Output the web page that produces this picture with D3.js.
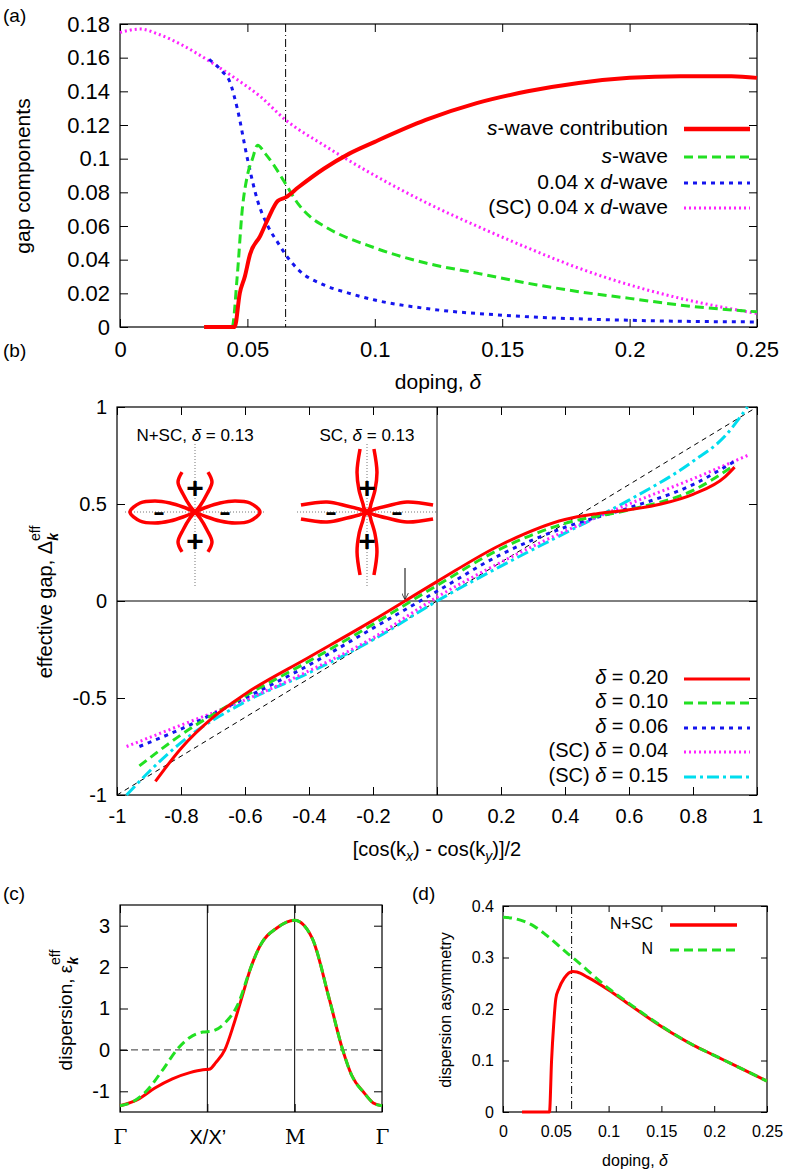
<!DOCTYPE html>
<html>
<head>
<meta charset="utf-8">
<script src="https://cdn.jsdelivr.net/npm/d3@7"></script>
<style>
  body { margin: 0; background: #fff; }
  svg { font-family: "Liberation Sans", Arial, sans-serif; }
  .tick text { fill: #000; }
</style>
</head>
<body>
<div id="wrapper"></div>
<script>
// ---------- data ----------
// (a) gap components vs doping
const aSwaveContrib = [[0.033,0],[0.045,0],[0.047,0.02],[0.049,0.03],[0.051,0.043],[0.055,0.054],[0.058,0.064],[0.062,0.075],[0.065,0.077],[0.07,0.083],[0.08,0.094],[0.09,0.103],[0.1,0.11],[0.12,0.123],[0.14,0.133],[0.16,0.14],[0.18,0.145],[0.2,0.148],[0.22,0.149],[0.24,0.149],[0.25,0.148]];
const aSwave = [[0.033,0],[0.044,0],[0.046,0.03],[0.048,0.07],[0.05,0.09],[0.052,0.1],[0.054,0.108],[0.057,0.103],[0.06,0.097],[0.065,0.085],[0.07,0.073],[0.075,0.065],[0.08,0.06],[0.1,0.047],[0.12,0.038],[0.14,0.032],[0.16,0.026],[0.18,0.021],[0.2,0.017],[0.22,0.013],[0.25,0.009]];
const aDwaveN = [[0.035,0.159],[0.04,0.152],[0.043,0.146],[0.046,0.13],[0.05,0.1],[0.054,0.075],[0.058,0.06],[0.062,0.05],[0.065,0.043],[0.07,0.034],[0.08,0.025],[0.09,0.02],[0.1,0.016],[0.12,0.011],[0.15,0.007],[0.2,0.004],[0.25,0.003]];
const aDwaveSC = [[0,0.175],[0.008,0.177],[0.015,0.174],[0.025,0.167],[0.035,0.158],[0.045,0.148],[0.055,0.137],[0.065,0.123],[0.08,0.108],[0.1,0.09],[0.12,0.074],[0.14,0.06],[0.16,0.047],[0.18,0.035],[0.2,0.025],[0.22,0.017],[0.25,0.008]];
const aXTicks = [0,0.05,0.1,0.15,0.2,0.25];
const aYTicks = [0,0.02,0.04,0.06,0.08,0.1,0.12,0.14,0.16,0.18];
const aLegend = ["s-wave contribution","s-wave","0.04 x d-wave","(SC) 0.04 x d-wave"];
const deltaC = 0.065;

// (b) effective gap
const b020 = [[-0.88,-0.93],[-0.8,-0.76],[-0.7,-0.6],[-0.6,-0.48],[-0.4,-0.29],[-0.2,-0.1],[0,0.1],[0.2,0.29],[0.4,0.42],[0.5,0.45],[0.6,0.47],[0.7,0.5],[0.8,0.55],[0.9,0.64],[0.93,0.69]];
const b010 = [[-0.93,-0.85],[-0.8,-0.69],[-0.6,-0.49],[-0.4,-0.31],[-0.2,-0.12],[0,0.08],[0.2,0.27],[0.4,0.4],[0.6,0.47],[0.8,0.57],[0.93,0.7]];
const b006 = [[-0.93,-0.75],[-0.8,-0.66],[-0.6,-0.5],[-0.4,-0.33],[-0.2,-0.14],[0,0.05],[0.2,0.24],[0.4,0.38],[0.6,0.48],[0.8,0.6],[0.93,0.72]];
const bSC004 = [[-0.97,-0.75],[-0.8,-0.64],[-0.6,-0.51],[-0.4,-0.36],[-0.2,-0.19],[0,0.02],[0.2,0.2],[0.4,0.36],[0.6,0.5],[0.8,0.63],[0.97,0.75]];
const bSC015 = [[-0.97,-1.0],[-0.9,-0.88],[-0.8,-0.73],[-0.6,-0.52],[-0.4,-0.37],[-0.2,-0.2],[0,0.0],[0.2,0.18],[0.4,0.35],[0.6,0.52],[0.8,0.72],[0.9,0.85],[0.97,1.0]];
const bDiag = [[-1,-1],[1,1]];
const bXTicks = [-1,-0.8,-0.6,-0.4,-0.2,0,0.2,0.4,0.6,0.8,1];
const bYTicks = [-1,-0.5,0,0.5,1];
const bLegend = ["δ = 0.20","δ = 0.10","δ = 0.06","(SC) δ = 0.04","(SC) δ = 0.15"];
const bArrowX = -0.1;

// insets: lobe branches, angle from lobe axis (deg) and radius (px-units)
const insetNSC_h = { ang: [0,9.3,15.4,19.8,22.6,45], r: [65,55.7,41.5,26.6,13,0], closed: true };
const insetNSC_v = { ang: [18,29.5,33.7,39.8,45], r: [42,34.5,21.6,7.8,0], closed: false };
const insetSC_h = { ang: [6,14,16.7,20.6,45], r: [66.4,41.2,20.9,8.5,0], closed: false };
const insetSC_v = { ang: [6.3,14,20,26.6,36.9,45], r: [63.4,41.2,23.4,8.9,5,0], closed: false };

// (c) dispersion along Γ-X-M-Γ
const cNSC = [[0,-1.35],[0.2,-1.2],[0.4,-0.92],[0.6,-0.7],[0.8,-0.55],[0.95,-0.48],[1.02,-0.47],[1.1,-0.3],[1.2,0.0],[1.3,0.6],[1.4,1.3],[1.5,2.0],[1.6,2.5],[1.8,2.95],[2.0,3.13],[2.2,2.7],[2.4,1.2],[2.55,0.0],[2.65,-0.6],[2.8,-1.05],[2.9,-1.28],[3.0,-1.35]];
const cN = [[0,-1.35],[0.15,-1.25],[0.3,-1.0],[0.5,-0.45],[0.65,0.0],[0.8,0.3],[0.95,0.43],[1.05,0.45],[1.2,0.65],[1.35,1.1],[1.5,2.0],[1.6,2.5],[1.8,2.95],[2.0,3.13],[2.2,2.7],[2.4,1.2],[2.55,0.0],[2.65,-0.6],[2.8,-1.05],[2.9,-1.28],[3.0,-1.35]];
const cXTicks = [0,1,2,3];
const cXLabels = ["Γ","X/X’","M","Γ"];
const cYTicks = [-1,0,1,2,3];

// (d) dispersion asymmetry
const dNSC = [[0.018,0],[0.044,0],[0.046,0.1],[0.048,0.17],[0.05,0.22],[0.053,0.24],[0.058,0.26],[0.066,0.273],[0.07,0.272],[0.08,0.262],[0.1,0.237],[0.12,0.208],[0.15,0.166],[0.18,0.13],[0.2,0.11],[0.22,0.09],[0.25,0.06]];
const dN = [[0,0.378],[0.01,0.376],[0.02,0.37],[0.03,0.36],[0.04,0.345],[0.05,0.328],[0.06,0.31],[0.07,0.293],[0.08,0.275],[0.1,0.24],[0.12,0.21],[0.15,0.167],[0.18,0.13],[0.2,0.11],[0.22,0.09],[0.25,0.06]];
const dXTicks = [0,0.05,0.1,0.15,0.2,0.25];
const dYTicks = [0,0.1,0.2,0.3,0.4];
const dLegend = ["N+SC","N"];

// ---------- styles ----------
const RED = "#ff0000", GREEN = "#22e022", BLUE = "#1515ee", PINK = "#ff22ff", CYAN = "#00ddee";
const fmt = (v) => String(+v.toFixed(2));

const svg = d3.select("#wrapper").append("svg").attr("width", 789).attr("height", 1175);

function panel(box, xDom, yDom, xTicks, yTicks, opt) {
  const x = d3.scaleLinear().domain(xDom).range([box.left, box.right]);
  const y = d3.scaleLinear().domain(yDom).range([box.bottom, box.top]);
  const g = svg.append("g");
  const ts = opt.tick || 8;
  const bot = g.append("g").attr("transform", `translate(0,${box.bottom})`)
    .call(d3.axisBottom(x).tickValues(xTicks).tickSize(-ts).tickPadding(opt.xpad || 14)
      .tickFormat(opt.xfmt || fmt));
  const top = g.append("g").attr("transform", `translate(0,${box.top})`)
    .call(d3.axisTop(x).tickValues(xTicks).tickSize(-ts).tickFormat(""));
  const lef = g.append("g").attr("transform", `translate(${box.left},0)`)
    .call(d3.axisLeft(y).tickValues(yTicks).tickSize(-ts).tickPadding(opt.ypad || 10).tickFormat(fmt));
  const rig = g.append("g").attr("transform", `translate(${box.right},0)`)
    .call(d3.axisRight(y).tickValues(yTicks).tickSize(-ts).tickFormat(""));
  [bot, top, lef, rig].forEach((a) => {
    a.select(".domain").remove();
    a.selectAll("line").attr("stroke", "#000");
    a.selectAll("text").attr("font-size", opt.fs).attr("font-family", "Liberation Sans, Arial, sans-serif");
  });
  g.append("rect").attr("x", box.left).attr("y", box.top)
    .attr("width", box.right - box.left).attr("height", box.bottom - box.top)
    .attr("fill", "none").attr("stroke", "#000").attr("stroke-width", 1.2);
  const line = d3.line().x((d) => x(d[0])).y((d) => y(d[1])).curve(d3.curveMonotoneX);
  return { x, y, g, line };
}

function draw(p, data, color, width, dash) {
  p.g.append("path").datum(data).attr("d", p.line)
    .attr("fill", "none").attr("stroke", color).attr("stroke-width", width)
    .attr("stroke-dasharray", dash || null);
}

function legendRow(g, tx, ty, x1, x2, color, width, dash, textNode, fs) {
  const t = g.append("text").attr("x", tx).attr("y", ty).attr("text-anchor", "end")
    .attr("font-size", fs).attr("dominant-baseline", "middle");
  textNode(t);
  g.append("line").attr("x1", x1).attr("x2", x2).attr("y1", ty).attr("y2", ty)
    .attr("stroke", color).attr("stroke-width", width).attr("stroke-dasharray", dash || null);
}

function label(x, y, txt, fs) {
  svg.append("text").attr("x", x).attr("y", y).attr("font-size", fs).text(txt);
}

// ---------- (a) ----------
const pa = panel({ left: 120, right: 757, top: 24, bottom: 327 }, [0, 0.25], [0, 0.18], aXTicks, aYTicks, { fs: 22 });
pa.g.append("line").attr("x1", pa.x(deltaC)).attr("x2", pa.x(deltaC)).attr("y1", pa.y(0.18)).attr("y2", pa.y(0))
  .attr("stroke", "#000").attr("stroke-dasharray", "8,3,1,3");
draw(pa, aDwaveSC, PINK, 3, "2,3");
draw(pa, aDwaveN, BLUE, 3, "4,5");
draw(pa, aSwave, GREEN, 3, "9,5");
draw(pa, aSwaveContrib, RED, 4);
const aStyle = [[RED, 4.5, null], [GREEN, 3, "9,5"], [BLUE, 3, "4,5"], [PINK, 3, "2,3"]];
const aY = [129, 157, 183, 208];
const italicWave = (pre, letter, post) => (t) => {
  if (pre) t.append("tspan").text(pre);
  t.append("tspan").attr("font-style", "italic").text(letter);
  t.append("tspan").text(post);
};
const aText = [italicWave("", "s", "-wave contribution"), italicWave("", "s", "-wave"),
  italicWave("0.04 x ", "d", "-wave"), italicWave("(SC) 0.04 x ", "d", "-wave")];
aLegend.forEach((n, i) => legendRow(svg, 668, aY[i], 684, 750, aStyle[i][0], aStyle[i][1], aStyle[i][2], aText[i], 21));
label(3, 22, "(a)", 19);
svg.append("text").attr("x", 438).attr("y", 389).attr("text-anchor", "middle").attr("font-size", 21)
  .call((t) => { t.append("tspan").text("doping, "); t.append("tspan").attr("font-style", "italic").text("δ"); });
svg.append("text").attr("transform", "translate(30,176) rotate(-90)").attr("text-anchor", "middle")
  .attr("font-size", 21).text("gap components");

// ---------- (b) ----------
const pb = panel({ left: 117, right: 757, top: 407, bottom: 795 }, [-1, 1], [-1, 1], bXTicks, bYTicks, { fs: 20 });
pb.g.append("line").attr("x1", pb.x(0)).attr("x2", pb.x(0)).attr("y1", pb.y(1)).attr("y2", pb.y(-1)).attr("stroke", "#000");
pb.g.append("line").attr("x1", pb.x(-1)).attr("x2", pb.x(1)).attr("y1", pb.y(0)).attr("y2", pb.y(0)).attr("stroke", "#000");
pb.g.append("path").datum(bDiag).attr("d", d3.line().x((d) => pb.x(d[0])).y((d) => pb.y(d[1])))
  .attr("stroke", "#000").attr("stroke-dasharray", "5,4").attr("fill", "none");
svg.append("defs").append("marker").attr("id", "arr").attr("viewBox", "0 0 10 10").attr("refX", 9).attr("refY", 5)
  .attr("markerWidth", 7).attr("markerHeight", 7).attr("orient", "auto")
  .append("path").attr("d", "M0,0 L10,5 L0,10").attr("fill", "none").attr("stroke", "#000");
pb.g.append("line").attr("x1", pb.x(bArrowX)).attr("x2", pb.x(bArrowX)).attr("y1", pb.y(0.17)).attr("y2", pb.y(0.01))
  .attr("stroke", "#000").attr("marker-end", "url(#arr)");
const bSeries = [bSC015, bSC004, b006, b010, b020];
const bStyle = [[CYAN, 3, "12,4,3,4"], [PINK, 3, "2,3"], [BLUE, 3, "4,5"], [GREEN, 3, "9,5"], [RED, 3, null]];
bSeries.forEach((s, i) => draw(pb, s, bStyle[i][0], bStyle[i][1], bStyle[i][2]));
const bY = [679, 703, 728, 752, 777];
bLegend.forEach((n, i) => {
  const st = bStyle[4 - i];
  legendRow(svg, 668, bY[i], 684, 750, st[0], st[1], st[2], (t) => {
    const k = n.indexOf("δ");
    if (k > 0) t.append("tspan").text(n.slice(0, k));
    t.append("tspan").attr("font-style", "italic").text("δ");
    t.append("tspan").text(n.slice(k + 1));
  }, 20);
});
label(3, 357, "(b)", 19);
svg.append("text").attr("x", 437).attr("y", 856).attr("text-anchor", "middle").attr("font-size", 20)
  .call((t) => {
    t.append("tspan").text("[cos(k");
    t.append("tspan").attr("font-style", "italic").attr("font-size", 14).attr("dy", 5).text("x");
    t.append("tspan").attr("dy", -5).text(") - cos(k");
    t.append("tspan").attr("font-style", "italic").attr("font-size", 14).attr("dy", 5).text("y");
    t.append("tspan").attr("dy", -5).text(")]/2");
  });
svg.append("text").attr("transform", "translate(52,602) rotate(-90)").attr("text-anchor", "middle").attr("font-size", 20)
  .call((t) => {
    t.append("tspan").text("effective gap, Δ");
    t.append("tspan").attr("font-style", "italic").attr("font-weight", "bold").attr("font-size", 14).attr("dy", 6).text("k");
    t.append("tspan").attr("font-size", 14).attr("dx", -8).attr("dy", -18).text("eff");
  });

// insets
function inset(cx, cy, hLobe, vLobe, title) {
  const ig = svg.append("g").attr("transform", `translate(${cx},${cy})`);
  ig.append("line").attr("x1", -70).attr("x2", 70).attr("y1", 0).attr("y2", 0).attr("stroke", "#777").attr("stroke-dasharray", "1,2");
  ig.append("line").attr("x1", 0).attr("x2", 0).attr("y1", -68).attr("y2", 75).attr("stroke", "#777").attr("stroke-dasharray", "1,2");
  const radial = d3.line().x((d) => d3.pointRadial(d[0], d[1])[0]).y((d) => d3.pointRadial(d[0], d[1])[1])
    .curve(d3.curveCatmullRom.alpha(0.5));
  const rad = (deg) => deg * Math.PI / 180;
  // axis angles in d3.pointRadial convention (0 = up)
  [[90, hLobe], [270, hLobe], [0, vLobe], [180, vLobe]].forEach(([axis, lobe]) => {
    const side = (sgn) => lobe.ang.map((a, i) => [rad(axis + sgn * a), lobe.r[i]]);
    if (lobe.closed) {
      const pts = side(-1).reverse().concat(side(1).slice(1));
      ig.append("path").attr("d", radial(pts)).attr("fill", "none").attr("stroke", RED).attr("stroke-width", 3.5);
    } else {
      [1, -1].forEach((s) => ig.append("path").attr("d", radial(side(s))).attr("fill", "none")
        .attr("stroke", RED).attr("stroke-width", 3.5));
    }
  });
  [["+", 0, -25], ["+", 0, 28], ["-", -36, 0], ["-", 30, 0]].forEach(([s, dx, dy]) =>
    ig.append("text").attr("x", dx).attr("y", dy).attr("text-anchor", "middle").attr("dominant-baseline", "central")
      .attr("font-weight", "bold").attr("font-size", s === "-" ? 9 : 30).text(s === "-" ? "▬" : "+"));
  svg.append("text").attr("x", cx).attr("y", cy - 71).attr("text-anchor", "middle").attr("font-size", 17)
    .call((t) => { t.append("tspan").text(title + ", "); t.append("tspan").attr("font-style", "italic").text("δ");
      t.append("tspan").text(" = 0.13"); });
}
inset(195, 512, insetNSC_h, insetNSC_v, "N+SC");
inset(367, 512, insetSC_h, insetSC_v, "SC");

// ---------- (c) ----------
const pc = panel({ left: 120, right: 382, top: 905, bottom: 1112 }, [0, 3], [-1.5, 3.5], cXTicks, cYTicks,
  { fs: 20, xfmt: (d, i) => cXLabels[i], xpad: 18 });
[1, 2].forEach((v) => pc.g.append("line").attr("x1", pc.x(v)).attr("x2", pc.x(v)).attr("y1", pc.y(3.5)).attr("y2", pc.y(-1.5)).attr("stroke", "#000"));
pc.g.append("line").attr("x1", pc.x(0)).attr("x2", pc.x(3)).attr("y1", pc.y(0)).attr("y2", pc.y(0))
  .attr("stroke", "#000").attr("stroke-dasharray", "7,4").attr("stroke-width", 0.8);
draw(pc, cNSC, RED, 3);
draw(pc, cN, GREEN, 3, "9,5");
pc.g.selectAll("text").filter(function () { return d3.select(this).text() === "Γ" || d3.select(this).text() === "M"; })
  .attr("font-family", "DejaVu Serif, serif");
label(3, 900, "(c)", 19);
svg.append("text").attr("transform", "translate(72,1010) rotate(-90)").attr("text-anchor", "middle").attr("font-size", 19)
  .call((t) => {
    t.append("tspan").text("dispersion, ε");
    t.append("tspan").attr("font-style", "italic").attr("font-weight", "bold").attr("font-size", 14).attr("dy", 6).text("k");
    t.append("tspan").attr("font-size", 14).attr("dx", -8).attr("dy", -18).text("eff");
  });

// ---------- (d) ----------
const pd = panel({ left: 503, right: 767, top: 906, bottom: 1112 }, [0, 0.25], [0, 0.4], dXTicks, dYTicks,
  { fs: 16, xpad: 14, ypad: 9, tick: 6 });
pd.g.append("line").attr("x1", pd.x(deltaC)).attr("x2", pd.x(deltaC)).attr("y1", pd.y(0.4)).attr("y2", pd.y(0))
  .attr("stroke", "#000").attr("stroke-dasharray", "8,3,1,3");
draw(pd, dNSC, RED, 3);
draw(pd, dN, GREEN, 3, "9,5");
legendRow(svg, 653, 925, 670, 737, RED, 3.5, null, (t) => t.text("N+SC"), 16);
legendRow(svg, 653, 950, 670, 737, GREEN, 3, "9,5", (t) => t.text("N"), 16);
label(412, 900, "(d)", 19);
svg.append("text").attr("x", 635).attr("y", 1166).attr("text-anchor", "middle").attr("font-size", 16)
  .call((t) => { t.append("tspan").text("doping, "); t.append("tspan").attr("font-style", "italic").text("δ"); });
svg.append("text").attr("transform", "translate(451,1010) rotate(-90)").attr("text-anchor", "middle")
  .attr("font-size", 16).text("dispersion asymmetry");
</script>
</body>
</html>
